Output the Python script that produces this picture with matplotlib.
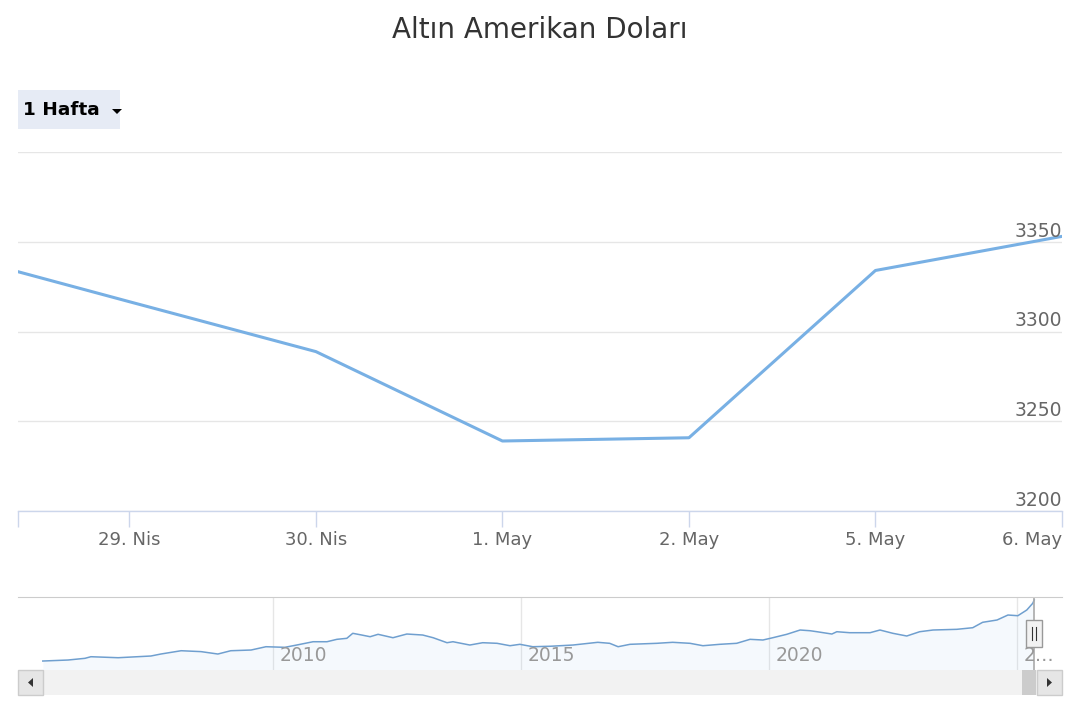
import numpy as np
import matplotlib.pyplot as plt
import matplotlib.transforms as mtransforms
from matplotlib.patches import Rectangle, Polygon

W, H = 1080, 720

title = "Altın Amerikan Doları"
range_button = "1 Hafta"

# main chart: ordinal trading days (weekend skipped)
day_labels = ["28. Nis", "29. Nis", "30. Nis", "1. May", "2. May", "5. May", "6. May"]
day_pos = [-1, 0, 1, 2, 3, 4, 5]
day_close = [3344.6, 3316.6, 3288.8, 3239.0, 3240.8, 3334.0, 3353.0]
y_ticks = [3200, 3250, 3300, 3350, 3400]
y_labels = ["3200", "3250", "3300", "3350", ""]

# navigator: full history
nav_years = [2005.36, 2005.87, 2006.21, 2006.33, 2006.88, 2007.54, 2007.74, 2008.15, 2008.55, 2008.89,
             2009.15, 2009.56, 2009.86, 2010.24, 2010.48, 2010.81, 2011.09, 2011.29, 2011.49, 2011.61,
             2011.79, 2011.96, 2012.12, 2012.42, 2012.70, 2013.02, 2013.23, 2013.51, 2013.63, 2013.97,
             2014.23, 2014.52, 2014.78, 2014.98, 2015.24, 2015.60, 2016.05, 2016.55, 2016.79, 2016.96,
             2017.20, 2017.74, 2018.06, 2018.41, 2018.67, 2019.01, 2019.35, 2019.62, 2019.88, 2020.08,
             2020.36, 2020.63, 2020.83, 2020.97, 2021.27, 2021.37, 2021.63, 2022.04, 2022.24, 2022.50,
             2022.78, 2023.04, 2023.31, 2023.79, 2024.11, 2024.31, 2024.60, 2024.82, 2025.02, 2025.20,
             2025.32, 2025.35]
nav_price = [430, 478, 559, 636, 588, 670, 765, 923, 880, 765,
             923, 957, 1115, 1086, 1196, 1354, 1354, 1469, 1517, 1757,
             1675, 1594, 1709, 1546, 1723, 1675, 1546, 1307, 1354, 1196,
             1307, 1278, 1163, 1230, 1115, 1138, 1196, 1326, 1278, 1115,
             1230, 1278, 1326, 1278, 1163, 1230, 1278, 1469, 1436, 1546,
             1709, 1915, 1881, 1833, 1723, 1833, 1786, 1786, 1915, 1757,
             1628, 1833, 1915, 1948, 2025, 2284, 2394, 2633, 2600, 2873,
             3194, 3352]
nav_ticks = [2010, 2015, 2020, 2025]
nav_tick_labels = ["2010", "2015", "2020", "2\u2026"]

LINE = "#7cb5ec"
GRID = "#e6e6e6"

fig = plt.figure(figsize=(W / 100, H / 100), dpi=100)


def px_rect(x, y, w, h, **kw):
    fig.add_artist(Rectangle((x / W, 1 - (y + h) / H), w / W, h / H,
                             transform=fig.transFigure, **kw))


def px_poly(pts, **kw):
    fig.add_artist(Polygon([(x / W, 1 - y / H) for x, y in pts],
                           closed=True, transform=fig.transFigure, **kw))


fig.text(0.5, 1 - 30 / H, title, ha="center", va="center", fontsize=20, color="#333333")

# range selector button
px_rect(18, 90, 102, 39, facecolor="#e6ebf5", edgecolor="none")
fig.text(23 / W, 1 - 110 / H, range_button, ha="left", va="center",
         fontsize=13.3, fontweight="bold", color="#000000")
px_poly([(112, 109), (122, 109), (117, 114)], facecolor="#000000", edgecolor="none")

# ---- main chart
ax = fig.add_axes([18 / W, 1 - 511 / H, 1044 / W, 359 / H])
ax.plot(day_pos, day_close, color="#78b0e4", lw=2.2, solid_joinstyle="round", solid_capstyle="round")
ax.set_xlim(-0.597, 5)
ax.set_ylim(3200, 3400)
for s in ["top", "left", "right"]:
    ax.spines[s].set_visible(False)
ax.spines["bottom"].set_color("#ccd6eb")
ax.spines["bottom"].set_linewidth(1)
ax.set_yticks(y_ticks)
ax.yaxis.grid(True, color=GRID, lw=1)
ax.tick_params(axis="y", length=0, labelleft=False)
ax.set_xticks(day_pos[1:])
ax.set_xticklabels(day_labels[1:])
ax.set_xticks([ax.get_xlim()[0]], minor=True)
ax.tick_params(axis="x", which="both", length=11.5, width=1, color="#ccd6eb",
               labelsize=13, labelcolor="#666666", pad=3)
ax.get_xticklabels()[-1].set_ha("right")
for v, lab in zip(y_ticks, y_labels):
    ax.annotate(lab, xy=(1.0, v), xycoords=("axes fraction", "data"),
                xytext=(0, 3.6), textcoords="offset points",
                ha="right", va="baseline", fontsize=13.5, color="#666666")

# ---- navigator
nav = fig.add_axes([18 / W, 1 - 670 / H, 1044 / W, 73 / H])
nav.set_xlim(2004.86, 2025.91)
nav.set_ylim(0, 3496)
nav.fill_between(nav_years, nav_price, 0, color=LINE, alpha=0.07, lw=0)
nav.plot(nav_years, nav_price, color="#6f9fcf", lw=1.1)
for yr, lab in zip(nav_ticks, nav_tick_labels):
    nav.axvline(yr, color=GRID, lw=1, zorder=0)
    nav.annotate(lab, xy=(yr, 0.2), xycoords=("data", "axes fraction"),
                 xytext=(5, 0), textcoords="offset points",
                 ha="left", va="center", fontsize=13.5, color="#999999")
nav.set_xticks([])
nav.set_yticks([])
for s in ["bottom", "left", "right"]:
    nav.spines[s].set_visible(False)
nav.spines["top"].set_color("#cccccc")
nav.axvline(nav_years[-1], color="#aaaaaa", lw=1.2)

# handle at the selected range
hx = nav.transData.transform((nav_years[-1], 0))[0]
px_rect(hx - 8, 620, 16, 27, facecolor="#f2f2f2", edgecolor="#999999", lw=1)
for dx in (-2, 2):
    fig.add_artist(plt.Line2D([(hx + dx) / W] * 2, [1 - 627 / H, 1 - 640 / H],
                              transform=fig.transFigure, color="#333333", lw=0.8))

# ---- scrollbar
px_rect(18, 670, 1044, 25, facecolor="#f2f2f2", edgecolor="none")
px_rect(hx - 12, 670, 14, 25, facecolor="#cccccc", edgecolor="none")
px_rect(18, 670, 25, 25, facecolor="#e6e6e6", edgecolor="#cccccc", lw=1)
px_rect(1037, 670, 25, 25, facecolor="#e6e6e6", edgecolor="#cccccc", lw=1)
px_poly([(28, 682.5), (33, 678), (33, 687)], facecolor="#333333", edgecolor="none")
px_poly([(1047, 678), (1047, 687), (1052, 682.5)], facecolor="#333333", edgecolor="none")

fig.savefig("out.png", dpi=100)
